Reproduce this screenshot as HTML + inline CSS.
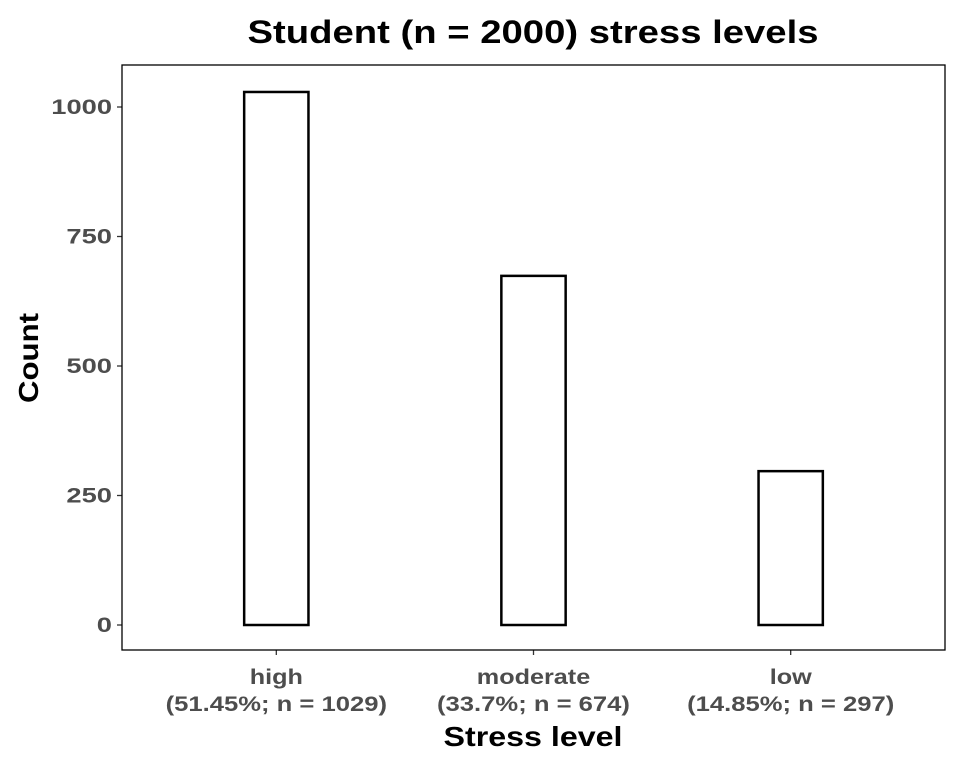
<!DOCTYPE html>
<html><head><meta charset="utf-8"><style>
body{margin:0;background:#fff;}
svg text{font-family:"Liberation Sans",Arial,sans-serif;font-weight:bold;}
</style></head><body>
<svg id="chart" width="960" height="768">
<text x="533" y="43" text-anchor="middle" font-size="32" fill="#000" textLength="571" lengthAdjust="spacingAndGlyphs">Student (n = 2000) stress levels</text>
<text transform="translate(38,358) rotate(-90)" text-anchor="middle" font-size="28" fill="#000" textLength="90" lengthAdjust="spacingAndGlyphs">Count</text>
<text x="533" y="746" text-anchor="middle" font-size="28" fill="#000" textLength="179" lengthAdjust="spacingAndGlyphs">Stress level</text>
<g id="marks"></g>
<rect x="122" y="65" width="823" height="585" fill="none" stroke="#000" stroke-width="1.3"/>
</svg>
<script>
const categories=["high","moderate","low"];
const catLabels=["(51.45%; n = 1029)","(33.7%; n = 674)","(14.85%; n = 297)"];
const counts=[1029,674,297];
const yTicks=[0,250,500,750,1000];
const NS="http://www.w3.org/2000/svg";
const g=document.getElementById('marks');
const left=122,width=823;
const band=width/(categories.length+0.2);
function x(i){return left+band*(0.6+i);}
function y(v){return 625-v*0.518;}
function mk(t,a,p){const e=document.createElementNS(NS,t);for(const k in a)e.setAttribute(k,a[k]);(p||g).appendChild(e);return e;}
function stretch(t,f){const w=t.getComputedTextLength();t.setAttribute('textLength',w*f);t.setAttribute('lengthAdjust','spacingAndGlyphs');}
yTicks.forEach(v=>{
  const l=mk('line',{x1:117,x2:122,y1:y(v),y2:y(v),stroke:'#333','stroke-width':1.3});
  
  
  const t=mk('text',{x:112,y:y(v)+7,'text-anchor':'end','font-size':21,fill:'#4d4d4d'});
  t.textContent=v;
  
  
  stretch(t,1.3);
});
const bw=band*0.25;
categories.forEach((c,i)=>{
  const cx=x(i);
  const r=mk('rect',{x:cx-bw/2,y:y(counts[i]),width:bw,height:y(0)-y(counts[i]),fill:'#fff',stroke:'#000','stroke-width':2.5});
  
  
  const tk=mk('line',{x1:cx,x2:cx,y1:650,y2:655,stroke:'#333','stroke-width':1.3});
  
  
  const t1=mk('text',{x:cx,y:684,'text-anchor':'middle','font-size':21,fill:'#4d4d4d'});
  t1.textContent=c;
  
  
  stretch(t1,1.2);
  const t2=mk('text',{x:cx,y:711,'text-anchor':'middle','font-size':21,fill:'#4d4d4d'});
  t2.textContent=catLabels[i];
  
  
  stretch(t2,1.22);
});
</script>
</body></html>
